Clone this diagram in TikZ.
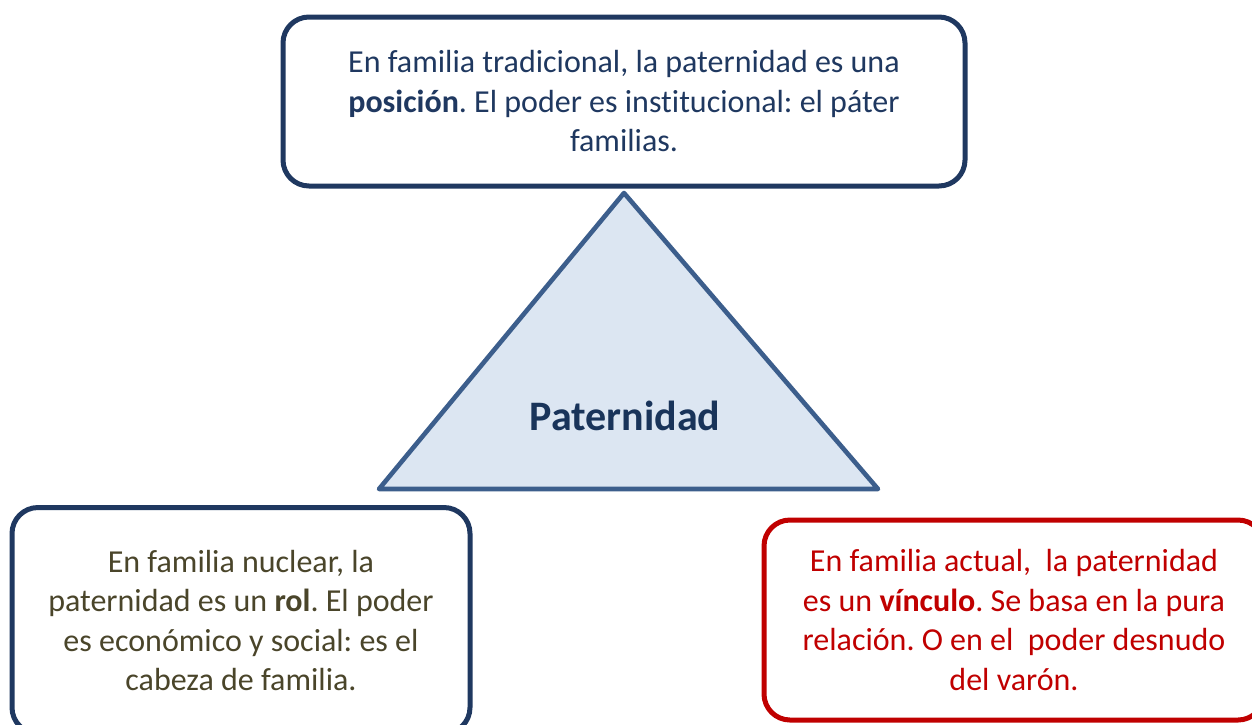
\documentclass[tikz,border=0pt]{standalone}
\usepackage{fontspec}
\setmainfont{Carlito}[Ligatures=NoCommon]
\frenchspacing
\definecolor{navy}{RGB}{31,56,96}
\definecolor{olive}{RGB}{74,69,42}
\definecolor{darkred}{RGB}{192,0,0}
\definecolor{triline}{RGB}{60,94,140}
\definecolor{trifill}{RGB}{220,230,242}
\definecolor{patcol}{RGB}{25,52,90}
\tikzset{
  infobox/.style={draw, line width=5pt, rounded corners=26pt, fill=white, align=center, inner sep=0pt,
    font=\fontsize{32}{39.5}\selectfont},
  tri/.style={draw=triline, fill=trifill, line width=4.6pt, line join=round},
}
\begin{document}
\begin{tikzpicture}[x=1pt,y=-1pt]
\useasboundingbox (0,0) rectangle (1252,724);
\node[infobox, draw=navy, text=navy, minimum width=682pt, minimum height=169pt] (top) at (624,101.5)
  {En familia tradicional, la paternidad es una\\ \textbf{posición}. El poder es institucional: el páter\\ familias.};
\coordinate (apex) at (624,193);
\coordinate (bl) at (379,489);
\coordinate (br) at (878,489);
\draw[tri] (bl) -- (apex) -- (br) -- cycle;
\node[text=patcol, font=\fontsize{42}{50}\selectfont\bfseries] (pat) at (625,416) {Paternidad};
\node[infobox, draw=navy, text=olive, minimum width=458pt, minimum height=226pt] (left) at (241,620.5)
  {En familia nuclear, la\\ paternidad es un \textbf{rol}. El poder\\ es económico y social: es el\\ cabeza de familia.};
\node[infobox, draw=darkred, text=darkred, minimum width=500pt, minimum height=200pt] (right) at (1014,620)
  {En familia actual,\ \ la paternidad\\ es un \textbf{vínculo}. Se basa en la pura\\ relación. O en el\ \ poder desnudo\\ del varón.};
\end{tikzpicture}
\end{document}
